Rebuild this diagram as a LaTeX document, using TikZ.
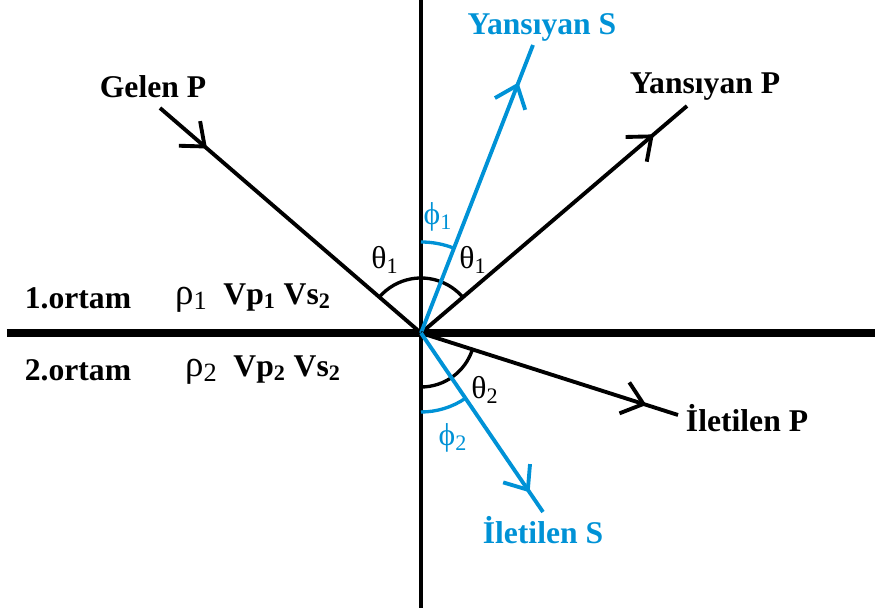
\documentclass[tikz,border=0pt]{standalone}
\usepackage{fontspec}
\setmainfont{Liberation Serif}
\usetikzlibrary{arrows.meta, decorations.markings}
\definecolor{swave}{RGB}{0, 146, 214}

\begin{document}
\begin{tikzpicture}[
    ray/.style={draw=black, line width=2.2pt},
    sray/.style={draw=swave, line width=2.2pt},
    midarr/.style={postaction={decorate, decoration={markings,
        mark=at position #1 with {\arrow{Straight Barb[length=4mm, width=6.5mm, line width=2.2pt]}}}}},
    lbl/.style={font=\fontsize{18}{21}\selectfont\bfseries, inner sep=0pt},
    ang/.style={font=\fontsize{18}{21}\selectfont, inner sep=0pt},
    angarc/.style={line width=1.9pt}
]
\useasboundingbox (-8.42,-5.62) rectangle (9.08,6.66);

% Interface and normal
\coordinate (O) at (0,0);
\coordinate (lEnd) at (-8.28,0);
\coordinate (rEnd) at (9.08,0);
\coordinate (nTop) at (0,6.66);
\coordinate (nBot) at (0,-5.50);
\draw[line width=5pt] (lEnd) -- (rEnd);
\draw[line width=2.2pt] (nTop) -- (nBot);

% Ray end points
\coordinate (gelenP) at (-5.22,4.50);
\coordinate (yansP) at (5.32,4.54);
\coordinate (yansS) at (2.24,5.76);
\coordinate (iletP) at (5.14,-1.64);
\coordinate (iletS) at (2.44,-3.58);

% Angle arcs
\draw[angarc] (O) ++(40.5:1.1) arc[start angle=40.5, end angle=139.5, radius=1.1];
\draw[angarc, swave] (O) ++(68.7:1.82) arc[start angle=68.7, end angle=90, radius=1.82];
\draw[angarc] (O) ++(-90:1.08) arc[start angle=-90, end angle=-17.7, radius=1.08];
\draw[angarc, swave] (O) ++(-90:1.58) arc[start angle=-90, end angle=-55.7, radius=1.58];

% Rays
\draw[ray, midarr=0.18] (gelenP) -- (O);
\draw[ray, midarr=0.875] (O) -- (yansP);
\draw[sray, midarr=0.87] (O) -- (yansS);
\draw[ray, midarr=0.877] (O) -- (iletP);
\draw[sray, midarr=0.89] (O) -- (iletS);

% Ray labels
\node[lbl] (tGelenP) at (-5.36,4.92) {Gelen P};
\node[lbl] (tYansP) at (5.68,4.92) {Yansıyan P};
\node[lbl, text=swave] (tYansS) at (2.42,6.12) {Yansıyan S};
\node[lbl] (tIletP) at (6.52,-1.70) {İletilen P};
\node[lbl, text=swave] (tIletS) at (2.44,-3.94) {İletilen S};

% Media
\node[lbl] (ortam1) at (-6.86,0.70) {1.ortam};
\node[lbl] (param1) at (-3.36,0.70) {{\mdseries\fontsize{21}{22}\selectfont ρ\textsubscript{\fontsize{15}{16}\selectfont 1}}\enspace Vp\textsubscript{1} Vs\textsubscript{2}};
\node[lbl] (ortam2) at (-6.86,-0.74) {2.ortam};
\node[lbl] (param2) at (-3.16,-0.74) {{\mdseries\fontsize{21}{22}\selectfont ρ\textsubscript{\fontsize{15}{16}\selectfont 2}}\enspace Vp\textsubscript{2} Vs\textsubscript{2}};

% Angle labels
\node[ang] (th1L) at (-0.72,1.46) {θ\textsubscript{1}};
\node[ang] (th1R) at (1.04,1.46) {θ\textsubscript{1}};
\node[ang, text=swave] (ph1) at (0.34,2.32) {ϕ\textsubscript{1}};
\node[ang] (th2) at (1.28,-1.14) {θ\textsubscript{2}};
\node[ang, text=swave] (ph2) at (0.64,-2.10) {ϕ\textsubscript{2}};

\end{tikzpicture}
\end{document}
